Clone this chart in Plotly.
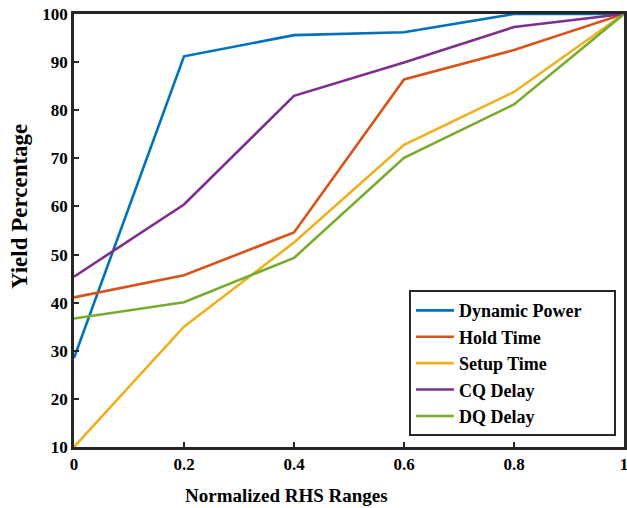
import plotly.graph_objects as go

x_vals = [0, 0.2, 0.4, 0.6, 0.8, 1.0]
dynamic_power = [28.5, 91.2, 95.6, 96.2, 100, 100]
hold_time = [41.1, 45.7, 54.6, 86.4, 92.5, 100]
setup_time = [10, 35.0, 52.5, 72.8, 83.8, 100]
cq_delay = [45.4, 60.4, 83.0, 89.9, 97.3, 100]
dq_delay = [36.7, 40.1, 49.3, 70.1, 81.2, 100]

series_names = ["Dynamic Power", "Hold Time", "Setup Time", "CQ Delay", "DQ Delay"]
series_vals = [dynamic_power, hold_time, setup_time, cq_delay, dq_delay]
colors = ["#0072BD", "#D95319", "#EDB120", "#7E2F8E", "#77AC30"]
x_ticks = [0, 0.2, 0.4, 0.6, 0.8, 1.0]
x_tick_labels = ["0", "0.2", "0.4", "0.6", "0.8", "1"]
y_ticks = list(range(10, 101, 10))

font_family = "Liberation Serif"

fig = go.Figure()
for i, (name, vals, c) in enumerate(zip(series_names, series_vals, colors)):
    label = f"<b>{name}</b>" + ("&nbsp;" * 6 if i == 0 else "")
    fig.add_trace(go.Scatter(
        x=x_vals, y=vals, mode="lines", name=label,
        line=dict(color=c, width=2.6), legendgroup=f"g{i}",
    ))

fig.update_layout(
    width=627, height=508,
    margin=dict(l=74, r=3, t=14, b=61),
    paper_bgcolor="white", plot_bgcolor="white",
    font=dict(family=font_family, color="black", size=14),
    showlegend=True,
    legend=dict(
        x=0.609, y=0.025, xanchor="left", yanchor="bottom",
        bgcolor="white", bordercolor="#262626", borderwidth=2,
        font=dict(family=font_family, size=18, color="black"),
        tracegroupgap=0, itemwidth=38,
    ),
    annotations=[
        dict(text="<b>Normalized RHS Ranges</b>", xref="paper", yref="paper",
             x=0.387, y=-0.111, showarrow=False, xanchor="center", yanchor="middle",
             font=dict(family=font_family, size=19, color="black")),
        dict(text="<b>Yield Percentage</b>", xref="paper", yref="paper",
             x=-0.1, y=0.554, showarrow=False, xanchor="center", yanchor="middle",
             textangle=-90, font=dict(family=font_family, size=23, color="black")),
    ],
)

fig.update_xaxes(
    range=[0, 1], tickvals=x_ticks,
    ticktext=[f"<b>{t}</b>" for t in x_tick_labels],
    ticks="inside", ticklen=5, tickwidth=2, tickcolor="#262626",
    showline=True, linewidth=2.5, linecolor="#262626", mirror=True,
    showgrid=False, zeroline=False, automargin=False, ticklabeloverflow="allow",
    tickfont=dict(family=font_family, size=17, color="black"),
)
fig.update_yaxes(
    range=[10, 100], tickvals=y_ticks, ticktext=[f"<b>{v}</b>" for v in y_ticks],
    ticks="inside", ticklen=5, tickwidth=2, tickcolor="#262626",
    showline=True, linewidth=2.5, linecolor="#262626", mirror=True,
    showgrid=False, zeroline=False, automargin=False, ticklabeloverflow="allow",
    tickfont=dict(family=font_family, size=17, color="black"),
)

fig.write_html("out.html", config={"displayModeBar": False},
               post_script="document.body.style.margin='0';document.body.style.overflow='hidden';")
